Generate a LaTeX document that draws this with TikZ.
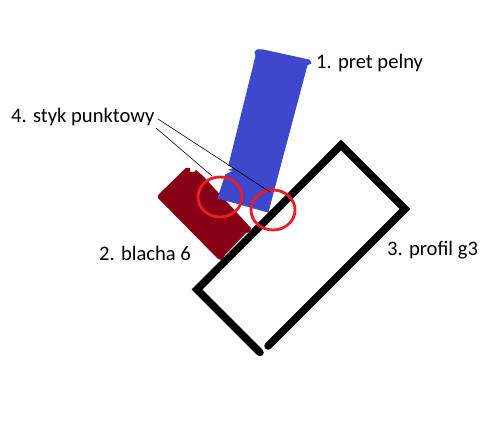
\documentclass[tikz,border=0pt]{standalone}
\usepackage{fontspec}
\usetikzlibrary{shapes.geometric}
\setmainfont{Carlito}
\begin{document}
\begin{tikzpicture}[x=1pt,y=-1pt,
  labeltext/.style={inner sep=0pt,anchor=west,font=\fontsize{20.6}{23}\selectfont,text=black},
  leader/.style={draw=black,line width=0.6pt},
  weld/.style={draw=weldred,line width=2.8pt},
  profile/.style={draw=black,line width=7.5pt,line join=miter,line cap=round}]
\definecolor{barblue}{HTML}{3F48CC}
\definecolor{platered}{HTML}{880015}
\definecolor{weldred}{HTML}{ED1C24}
\useasboundingbox (0,0) rectangle (485,422);
\fill[white] (0,0) rectangle (485,422);
% plate
\fill[platered] (186,168) -- (190,168) -- (190,172) -- (194,172) -- (196,170) -- (203,176)
  -- (251,228) -- (250,232) -- (246,233) -- (225,255) -- (222,260) -- (218,259) -- (158,198) -- (158,195) -- cycle;
% bar
\fill[barblue,draw=barblue,line width=1pt,line join=round] (257,50) -- (263,50) -- (309,60) -- (311,63) -- (307,65)
  -- (273,193) -- (268,212) -- (218,198) -- (229,165) -- (256,56) -- (255,52) -- cycle;
\fill[white] (224,167) -- (230,166) -- (233,168) -- (227,170) -- (232,171) -- (226,174) -- (222,172) -- cycle;
% profile
\draw[profile] (268,346) -- (405,209) -- (341,145) -- (197,289.5) -- (260,352.5);
% weld circles
\node[weld,ellipse,minimum width=44pt,minimum height=40pt,inner sep=0pt] (w1) at (220,197) {};
\node[weld,ellipse,minimum width=44pt,minimum height=40pt,inner sep=0pt] (w2) at (273,210) {};
% labels
\node[labeltext] (l1) at (316,63) {1. pret pelny};
\node[labeltext] (l4) at (11,117) {4. styk punktowy};
\node[labeltext] (l2) at (99,253) {2. blacha 6};
\node[labeltext] (l3) at (387,250) {3. profil g3};
% leaders
\coordinate (a) at (158,119);
\coordinate (b) at (156,128);
\coordinate (c) at (270,192);
\coordinate (d) at (212,176);
\draw[leader] (a) -- (c);
\draw[leader] (b) -- (d);
\end{tikzpicture}
\end{document}
